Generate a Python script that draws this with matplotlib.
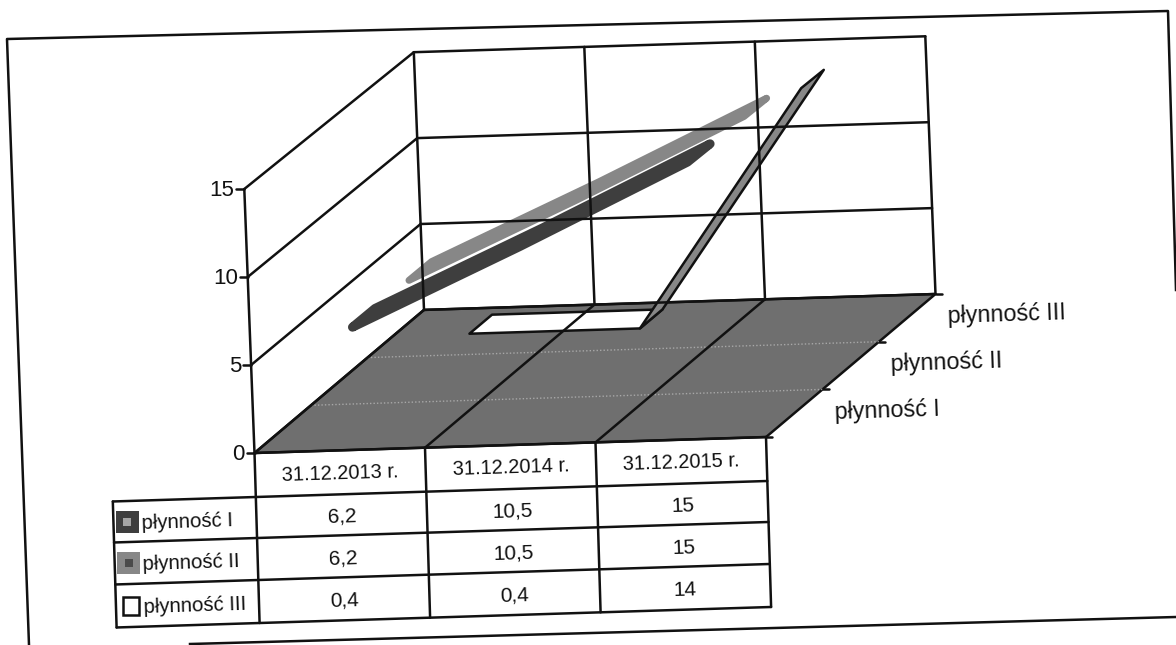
import matplotlib
matplotlib.use("Agg")
import matplotlib.pyplot as plt
from matplotlib.patches import Polygon

plt.rcParams["font.family"] = ["Liberation Sans", "DejaVu Sans"]

# data
categories = ["31.12.2013 r.", "31.12.2014 r.", "31.12.2015 r."]
series_names = ["płynność I", "płynność II", "płynność III"]
plynnosc_1 = [6.2, 10.5, 15]
plynnosc_2 = [6.2, 10.5, 15]
plynnosc_3 = [0.4, 0.4, 14]
z_ticks = [0, 5, 10, 15]

INK = "#111111"
FLOOR = "#6f6f6f"
DARK = "#3e3e3e"
GREY = "#878787"
TILT = 1.8
RIBBON = 0.2
LW = 1.8


def project(u, v, z=0):
    """category pos, series depth, value -> picture pixels"""
    x = 254.5 + u * 170.5 + v * 56.5 - z * 0.68
    y = 453 - u * 5.3 - v * 47.7 - z * (17.6 - 0.14 * v)
    return x, y


def table_pt(along, down):
    return 254.5 + along * 1.0 + down * 0.03, 453 - along * 0.0313 + down


def line(ax, a, b, lw=LW, color=INK, **kw):
    ax.plot([a[0], b[0]], [a[1], b[1]], color=color, lw=lw, solid_capstyle="round", **kw)


def ribbon(ax, values, v, u0, u1, color, edge=None, lw=3.0):
    pts = []
    for i in range(u0, u1 + 1):
        pts.append(project(i + 0.5, v - RIBBON, values[i]))
    for i in range(u1, u0 - 1, -1):
        pts.append(project(i + 0.5, v + RIBBON, values[i]))
    ax.add_patch(Polygon(pts, closed=True, facecolor=color, edgecolor=edge or color,
                         lw=lw, joinstyle="round"))


fig = plt.figure(figsize=(11.76, 6.45), dpi=100)
ax = fig.add_axes([0, 0, 1, 1])
ax.set_xlim(0, 1176)
ax.set_ylim(645, 0)
ax.axis("off")

# scanned page frame
ax.plot([29, 7, 1168, 1176], [645, 39, 11, 290], color=INK, lw=LW)
ax.plot([190, 1176], [644, 617], color=INK, lw=LW)

n_cat = len(categories)
n_ser = len(series_names)
z_top = z_ticks[-1]

# floor
ax.add_patch(Polygon([project(0, 0), project(n_cat, 0), project(n_cat, n_ser), project(0, n_ser)],
                     closed=True, facecolor=FLOOR, edgecolor=INK, lw=LW))
for v in range(1, n_ser):
    line(ax, project(0, v), project(n_cat, v), lw=1.0, color="#a8a8a8", linestyle=(0, (1, 1.5)))
for u in range(1, n_cat):
    line(ax, project(u, 0), project(u, n_ser))

# walls
for z in z_ticks:
    line(ax, project(0, 0, z), project(0, n_ser, z))
    line(ax, project(0, n_ser, z), project(n_cat, n_ser, z))
    tick = project(0, 0, z)
    line(ax, (tick[0] - 8, tick[1]), tick)
    ax.text(tick[0] - 10, tick[1] + 1, str(z), ha="right", va="center", fontsize=16, color=INK)
line(ax, project(0, 0, 0), project(0, 0, z_top))
for u in range(0, n_cat + 1):
    line(ax, project(u, n_ser, 0), project(u, n_ser, z_top))

# back to front
ribbon(ax, plynnosc_3, 2.5, 0, 1, "white", edge=INK, lw=LW)
ribbon(ax, plynnosc_3, 2.5, 1, 2, GREY, edge=INK, lw=LW)
ribbon(ax, plynnosc_2, 1.5, 0, 2, GREY, lw=5.0)
ribbon(ax, plynnosc_1, 0.5, 0, 2, DARK, lw=6.5)

# depth axis
for v in range(n_ser + 1):
    p = project(n_cat, v)
    line(ax, p, (p[0] + 6, p[1]))
for i, name in enumerate(series_names):
    p = project(n_cat, i + 0.5)
    ax.text(p[0] + 40, p[1] - 1, name, ha="left", va="center", fontsize=16.8, color=INK,
            rotation=TILT, rotation_mode="anchor")

# data table
col_edges = [0, 170.5, 341, 511.5]
row_edges = [0, 44, 85, 127, 170]
legend_left = -143
for d in row_edges:
    start = 0 if d == row_edges[0] else legend_left
    line(ax, table_pt(start, d), table_pt(col_edges[-1], d))
for a in col_edges:
    line(ax, table_pt(a, row_edges[0]), table_pt(a, row_edges[-1]))
line(ax, table_pt(legend_left, row_edges[1]), table_pt(legend_left, row_edges[-1]))

for c, cat in enumerate(categories):
    mid = (col_edges[c] + col_edges[c + 1]) / 2
    x, y = table_pt(mid, (row_edges[0] + row_edges[1]) / 2)
    ax.text(x, y + 1, cat, ha="center", va="center", fontsize=14.4, color=INK,
            rotation=TILT, rotation_mode="anchor")

rows = [plynnosc_1, plynnosc_2, plynnosc_3]
swatch = [(DARK, "#a5a5a5"), (GREY, "#4a4a4a"), ("white", "white")]
for r, values in enumerate(rows):
    top, bottom = row_edges[r + 1], row_edges[r + 2]
    for c, val in enumerate(values):
        mid = (col_edges[c] + col_edges[c + 1]) / 2
        x, y = table_pt(mid, (top + bottom) / 2)
        ax.text(x, y + 2, f"{val:g}".replace(".", ","), ha="center", va="center", fontsize=15,
                color=INK, rotation=TILT, rotation_mode="anchor")
    fill, inner = swatch[r]
    if r < 2:
        x, y = table_pt(legend_left + 14, (top + bottom) / 2)
        ax.add_patch(Polygon([(x - 11.5, y - 11), (x + 11.5, y - 11), (x + 11.5, y + 11), (x - 11.5, y + 11)],
                             closed=True, facecolor=fill, edgecolor="none"))
        ax.add_patch(Polygon([(x - 4, y - 4), (x + 4, y - 4), (x + 4, y + 4), (x - 4, y + 4)],
                             closed=True, facecolor=inner, edgecolor="none"))
    else:
        x, y = table_pt(legend_left + 15, (top + bottom) / 2)
        ax.add_patch(Polygon([(x - 8, y - 9), (x + 8, y - 9), (x + 8, y + 9), (x - 8, y + 9)],
                             closed=True, facecolor=fill, edgecolor=INK, lw=LW))
    x, y = table_pt(legend_left + 28, (top + bottom) / 2)
    ax.text(x, y + 2, series_names[r], ha="left", va="center", fontsize=14.6, color=INK,
            rotation=TILT, rotation_mode="anchor")

fig.savefig("out.png", dpi=100, facecolor="white")
